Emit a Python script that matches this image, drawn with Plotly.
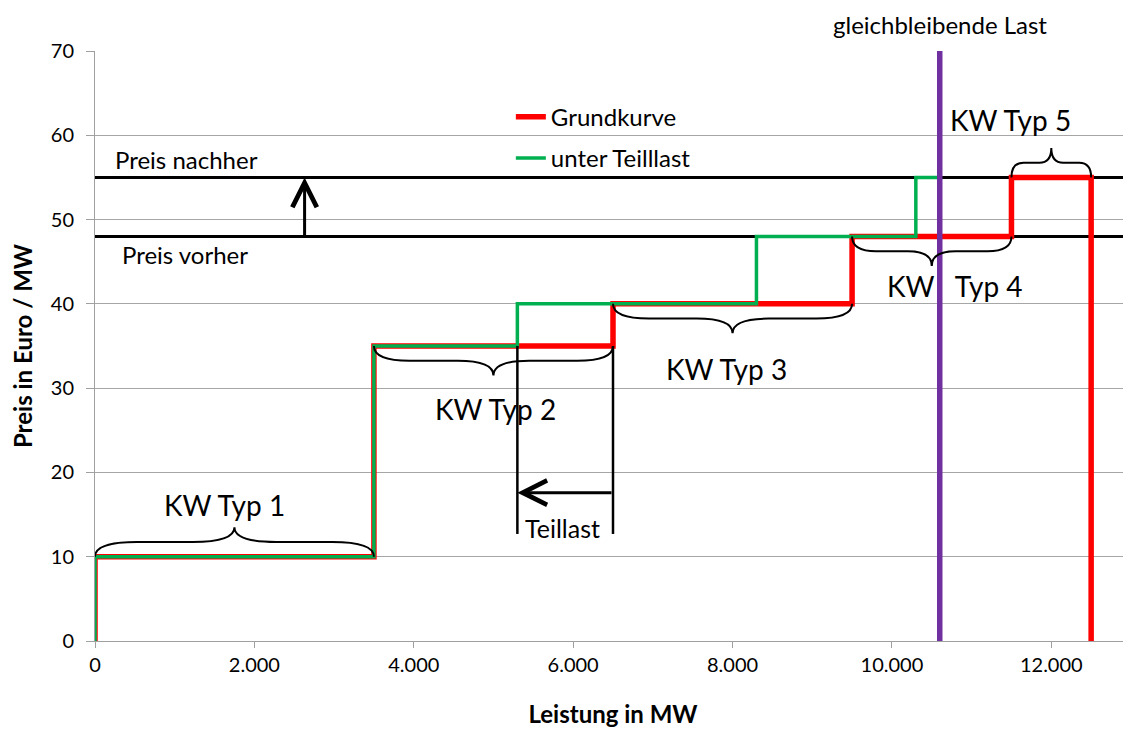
import plotly.graph_objects as go

# Kraftwerkstypen: Leistung (MW) und Preis (Euro/MW)
kw_names = ["KW Typ 1", "KW Typ 2", "KW Typ 3", "KW   Typ 4", "KW Typ 5"]
kw_caps = [3500, 3000, 3000, 2000, 1000]
kw_prices = [10, 35, 40, 48, 55]
# unter Teillast: KW Typ 2 liefert nur 1800 MW
kw_caps_teillast = [3500, 1800, 3000, 2000, 1000]
last = 10600
preis_vorher = 48
preis_nachher = 55

# annotation text positions (data units)
label_x = [1630, 5030, 7930, 10790, 11490]
label_y = [16.1, 27.5, 32.3, 42.1, 61.8]
brace_dir = [1, -1, -1, -1, 1]
brace_h = 3.5

x_max = 13000
y_max = 70
FONT = "Lato"


def step_curve(caps, prices, stop=None, drop=True):
    xs, ys, pos = [0], [0], 0
    for c, p in zip(caps, prices):
        end = pos + c
        if stop is not None and end >= stop:
            xs += [pos, stop]
            ys += [p, p]
            return xs, ys
        xs += [pos, end]
        ys += [p, p]
        pos = end
    if drop:
        xs.append(pos)
        ys.append(0)
    return xs, ys


rx, ry = step_curve(kw_caps, kw_prices)
gx, gy = step_curve(kw_caps_teillast, kw_prices, stop=last)

fig = go.Figure()
for p in [preis_nachher, preis_vorher]:
    fig.add_trace(go.Scatter(x=[0, x_max], y=[p, p], mode="lines",
                             line=dict(color="black", width=3), showlegend=False, hoverinfo="skip"))

fig.add_trace(go.Scatter(x=rx, y=ry, mode="lines", name="Grundkurve", legendgroup="a",
                         line=dict(color="#FF0000", width=5.5)))
fig.add_trace(go.Scatter(x=gx, y=gy, mode="lines", name="unter Teilllast", legendgroup="b",
                         line=dict(color="#00B050", width=3.5)))
fig.add_trace(go.Scatter(x=[last, last], y=[0, y_max], mode="lines", showlegend=False,
                         line=dict(color="#7030A0", width=5.5), hoverinfo="skip"))

# Teillast: Grenzen von KW Typ 2
t_start = kw_caps_teillast[0] + kw_caps_teillast[1]
t_end = kw_caps[0] + kw_caps[1]
for xv in [t_start, t_end]:
    fig.add_trace(go.Scatter(x=[xv, xv], y=[kw_prices[1], 12.7], mode="lines", showlegend=False,
                             line=dict(color="black", width=2.5), hoverinfo="skip"))

# Klammern
shapes = []
pos = 0
for c, p, d in zip(kw_caps, kw_prices, brace_dir):
    x0, x1 = pos, pos + c
    xm = (x0 + x1) / 2
    a = 0.15 * c
    ym = p + d * brace_h / 2
    yt = p + d * brace_h
    path = (f"M{x0},{p} Q{x0},{ym} {x0+a},{ym} L{xm-a},{ym} Q{xm},{ym} {xm},{yt} "
            f"Q{xm},{ym} {xm+a},{ym} L{x1-a},{ym} Q{x1},{ym} {x1},{p}")
    shapes.append(dict(type="path", path=path, xref="x", yref="y",
                       line=dict(color="black", width=2)))
    pos = x1

annotations = []
for name, lx, ly in zip(kw_names, label_x, label_y):
    annotations.append(dict(x=lx, y=ly, text=name, showarrow=False,
                            font=dict(family=FONT, size=28, color="black")))

annotations += [
    dict(x=1150, y=57.1, text="Preis nachher", showarrow=False, font=dict(family=FONT, size=24, color="black")),
    dict(x=1130, y=45.9, text="Preis vorher", showarrow=False, font=dict(family=FONT, size=24, color="black")),
    dict(x=5870, y=13.4, text="Teillast", showarrow=False, font=dict(family=FONT, size=25, color="black")),
    dict(x=last, xref="x", y=1, yref="paper", yanchor="top", yshift=43, text="gleichbleibende Last",
         showarrow=False, font=dict(family=FONT, size=24, color="black")),
    # Pfeile
    dict(x=2630, y=preis_nachher, ax=2630, ay=preis_vorher, xref="x", yref="y", axref="x", ayref="y",
         showarrow=True, arrowhead=5, arrowsize=1.6, arrowwidth=3, arrowcolor="black", text=""),
    dict(x=t_start, y=17.6, ax=t_end, ay=17.6, xref="x", yref="y", axref="x", ayref="y",
         showarrow=True, arrowhead=5, arrowsize=1.6, arrowwidth=3, arrowcolor="black", text=""),
]

fig.update_layout(
    width=1123, height=720,
    margin=dict(l=87, r=0, t=43, b=85),
    paper_bgcolor="white", plot_bgcolor="white",
    separators=",.",
    font=dict(family=FONT, size=20, color="black"),
    shapes=shapes,
    annotations=annotations,
    legend=dict(x=0.4014, y=0.926, xanchor="left", yanchor="top", bgcolor="rgba(0,0,0,0)",
                font=dict(family=FONT, size=24, color="black"), traceorder="grouped", tracegroupgap=7),
    showlegend=True,
)
fig.update_xaxes(range=[0, x_max], tickvals=list(range(0, 12001, 2000)), tickformat=",d",
                 showgrid=False, showline=True, linecolor="#A0A0A0", linewidth=1,
                 ticks="outside", ticklen=6, tickcolor="#A0A0A0", zeroline=False,
                 tickfont=dict(family=FONT, size=20, color="black"),
                 title=dict(text="<b>Leistung in MW</b>", standoff=35,
                            font=dict(family=FONT, size=24, color="black")))
fig.update_yaxes(range=[0, y_max], dtick=10, showgrid=True, gridcolor="#A6A6A6", gridwidth=1,
                 showline=True, linecolor="#A0A0A0", linewidth=1,
                 ticks="outside", ticklen=8, tickcolor="#A0A0A0", zeroline=False,
                 ticklabelstandoff=8,
                 tickfont=dict(family=FONT, size=20, color="black"),
                 title=dict(text="<b>Preis in Euro / MW</b>", standoff=16,
                            font=dict(family=FONT, size=24, color="black")))

fig.write_html("out.html")
